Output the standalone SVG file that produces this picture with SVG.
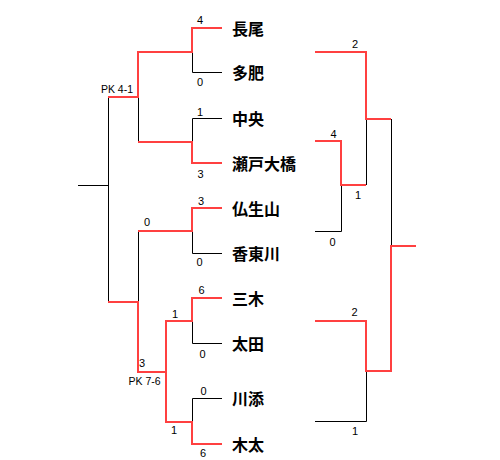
<svg xmlns="http://www.w3.org/2000/svg" width="500" height="460" viewBox="0 0 500 460">
<style>
.w{fill:none;stroke:#ff4040;stroke-width:2}
.l{fill:none;stroke:#000;stroke-width:1}
.n{font-family:"Noto Sans CJK JP","Noto Sans CJK SC",sans-serif;font-size:16px;font-weight:bold;fill:#000}
.s{font-family:"Liberation Sans",Arial,sans-serif;font-size:11px;fill:#000;text-anchor:middle}
.p{font-family:"Liberation Sans",Arial,sans-serif;font-size:10.5px;fill:#000}
</style>
<rect width="500" height="460" fill="#fff"/>
<g id="connectors">
<path class="l" d="M222,72.5H192.5V52M222,118.5H192.5V142M138.5,97V142M222,253.5H192.5V231M138.5,231V302M222,343.5H192.5V321M222,398.5H192.5V422M108.5,97V302M78,185.5H108.5"/>
<path class="l" d="M366.5,119V185M341.5,185V231.5H315M391.5,119V246M366.5,371V421.5H315"/>
<path class="w" d="M222,28H192V52H138V97H108"/>
<path class="w" d="M222,163H192V142H138"/>
<path class="w" d="M222,208H192V231H138"/>
<path class="w" d="M108,302H138V372H166V321H192V298H222"/>
<path class="w" d="M166,372V422H192V444H222"/>
<path class="w" d="M315,52H366V119H391"/>
<path class="w" d="M315,141H341V185H366"/>
<path class="w" d="M315,321H366V371H391V246H416"/>
</g>
<g id="scores">
<text class="s" x="200" y="24">4</text>
<text class="s" x="200" y="86">0</text>
<text class="p" x="133" y="93" text-anchor="end">PK 4-1</text>
<text class="s" x="200" y="116">1</text>
<text class="s" x="200.5" y="178">3</text>
<text class="s" x="201" y="205">3</text>
<text class="s" x="147" y="226">0</text>
<text class="s" x="199.5" y="266">0</text>
<text class="s" x="201.5" y="294">6</text>
<text class="s" x="175" y="318">1</text>
<text class="s" x="202.5" y="358">0</text>
<text class="s" x="142" y="367">3</text>
<text class="p" x="128.5" y="385">PK 7-6</text>
<text class="s" x="203.5" y="395">0</text>
<text class="s" x="174" y="434">1</text>
<text class="s" x="203" y="456.5">6</text>
<text class="s" x="355" y="48">2</text>
<text class="s" x="333.5" y="138">4</text>
<text class="s" x="358" y="199">1</text>
<text class="s" x="332.5" y="246">0</text>
<text class="s" x="354.5" y="316">2</text>
<text class="s" x="355" y="435">1</text>
</g>
<g id="team-nagao"><text class="n" x="232" y="35">長尾</text></g>
<g id="team-tahi"><text class="n" x="232" y="79">多肥</text></g>
<g id="team-chuo"><text class="n" x="232" y="125">中央</text></g>
<g id="team-setoohashi"><text class="n" x="232" y="170">瀬戸大橋</text></g>
<g id="team-bussyozan"><text class="n" x="232" y="215">仏生山</text></g>
<g id="team-kotogawa"><text class="n" x="232" y="260">香東川</text></g>
<g id="team-miki"><text class="n" x="232" y="305">三木</text></g>
<g id="team-ota"><text class="n" x="232" y="350">太田</text></g>
<g id="team-kawazoe"><text class="n" x="232" y="405">川添</text></g>
<g id="team-kita"><text class="n" x="232" y="451">木太</text></g>
</svg>
